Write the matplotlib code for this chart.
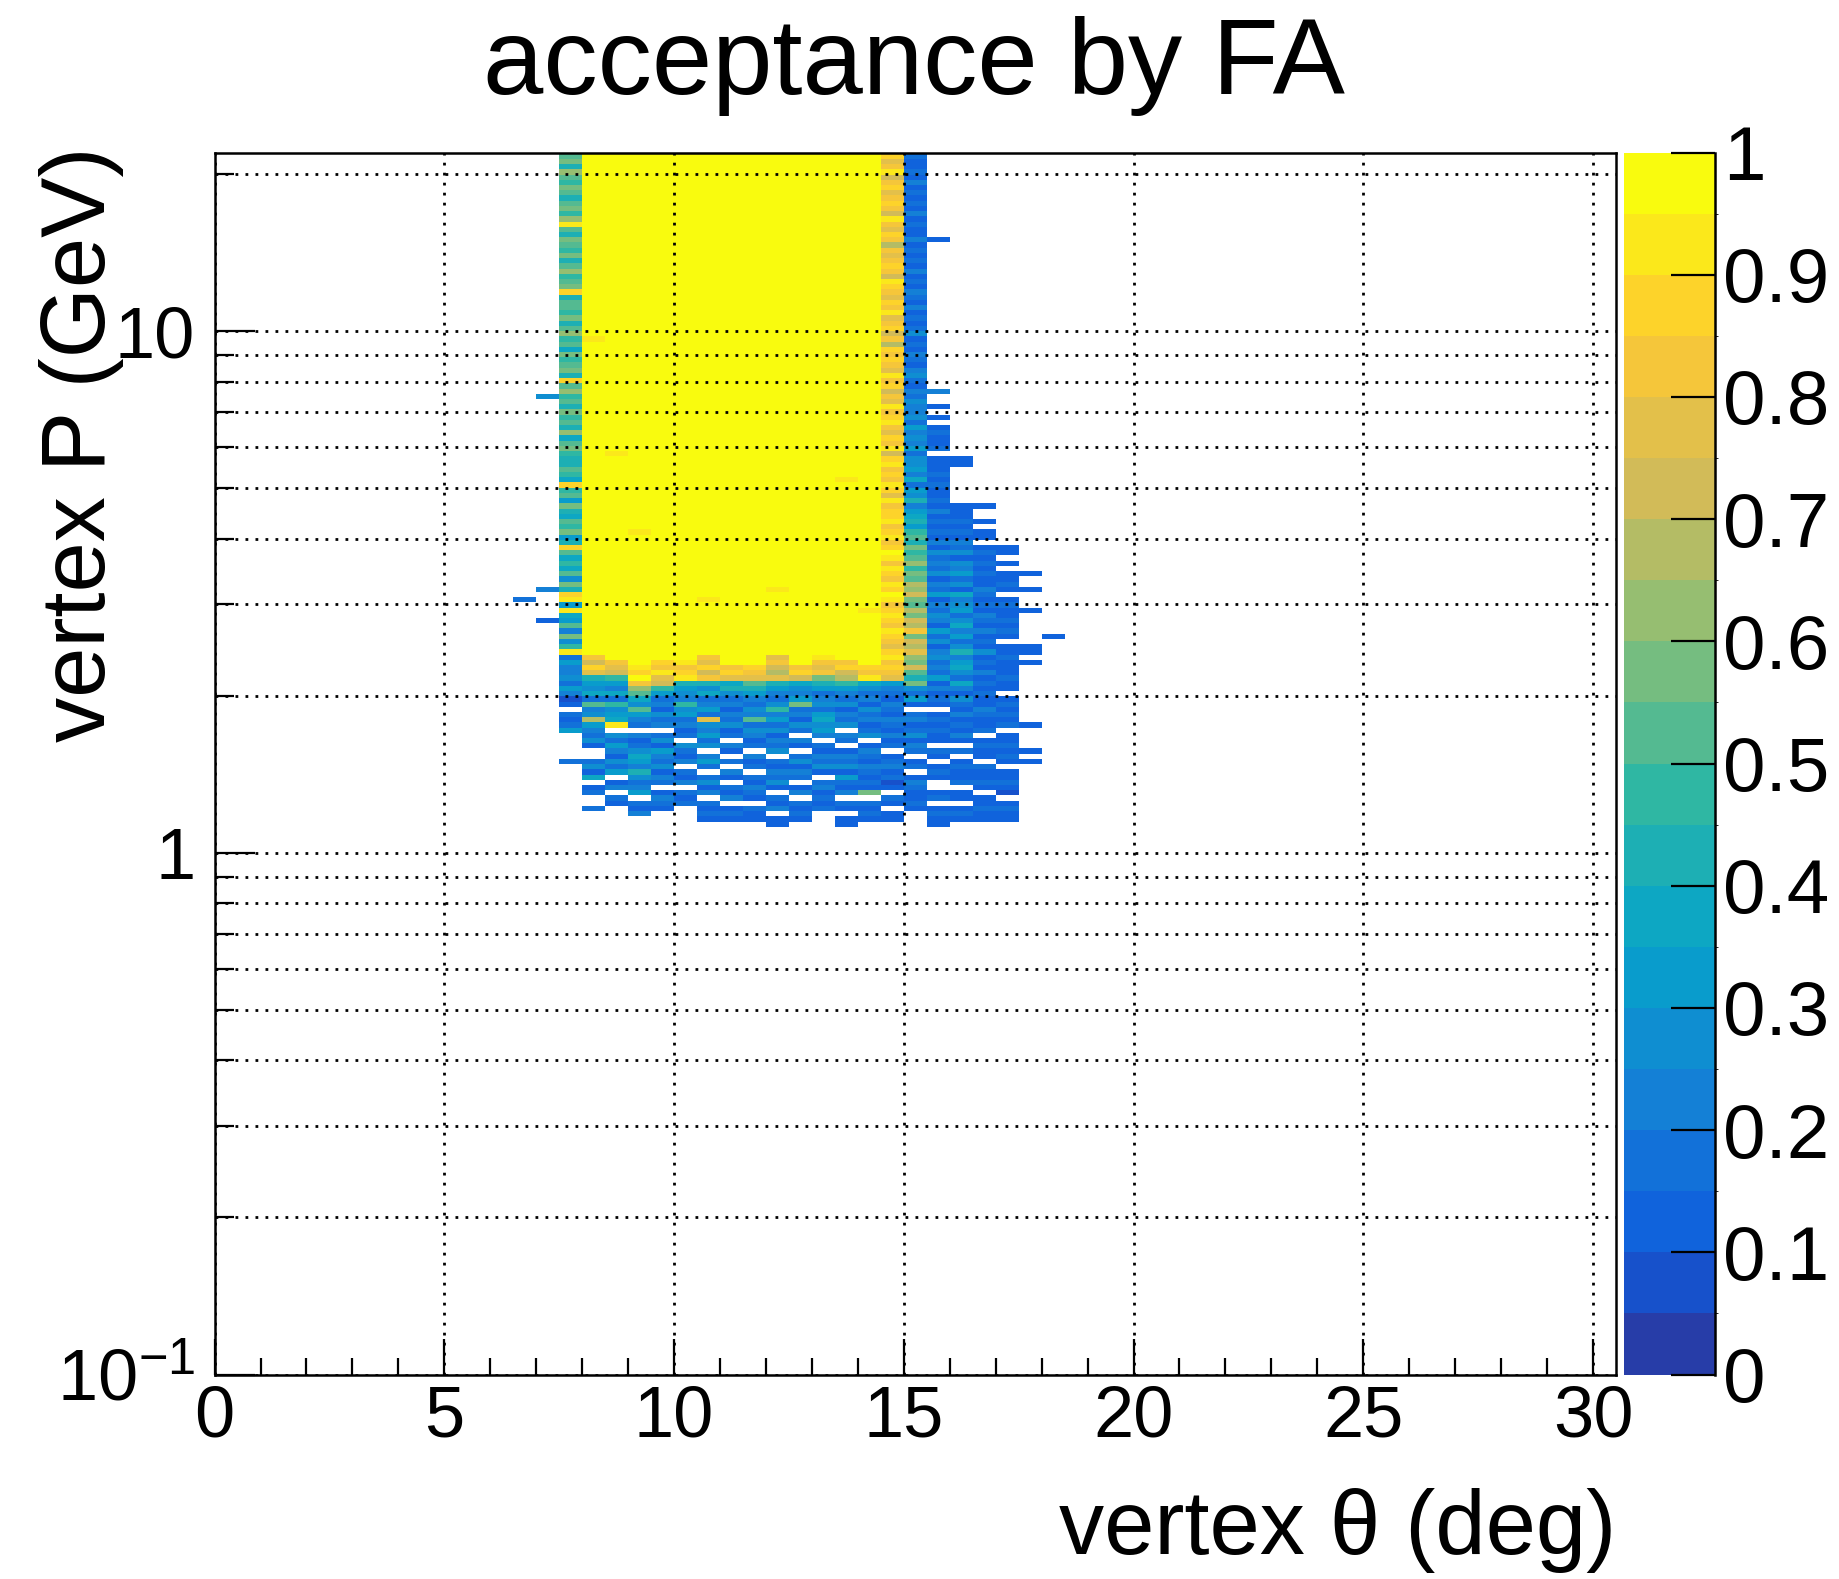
#!/usr/bin/env python3
"""
acceptance by FA -- 2D acceptance map (vertex theta vs vertex P), ROOT style.
"""

import numpy as np
import matplotlib
matplotlib.use("Agg")
import matplotlib.pyplot as plt
from matplotlib.colors import LinearSegmentedColormap, ListedColormap, BoundaryNorm
from matplotlib.ticker import MultipleLocator, LogLocator, NullFormatter

plt.rcParams["font.family"] = ["Liberation Sans", "DejaVu Sans"]
plt.rcParams["mathtext.fontset"] = "custom"
plt.rcParams["mathtext.rm"] = "Liberation Sans"

# ------------------------------------------------------------------
# 1  data
#    theta bins are 0.5 deg wide, P rows are 0.01 in log10(P),
#    first char = top row (log10 P = 1.34..1.35), last = bottom (0.05..0.06)
#    "." = empty bin, "0".."J" = acceptance band of width 0.05
# ------------------------------------------------------------------
CODES = "0123456789ABCDEFGHIJ"
E = ".........."
Y = "JJJJJJJJJJ"

theta_lo = [6.5, 7.0, 7.5, 8.0, 8.5, 9.0, 9.5, 10.0, 10.5, 11.0, 11.5, 12.0,
            12.5, 13.0, 13.5, 14.0, 14.5, 15.0, 15.5, 16.0, 16.5, 17.0, 17.5, 18.0]
theta_width = 0.5
logp_top, logp_step, n_rows = 1.35, 0.01, 130

acc_cols = [
    # 6.5
    [E, E, E, E, E, E, E, E, "......3...", E, E, E, E],
    # 7.0
    [E, E, E, E, ".......5..", E, E, E, "....4.....", "2.........", E, E, E],
    # 7.5
    ["9AB8CA9BA8", "AB9CIA8BA9", "B8AC9ABH8A", "A9B8AC9A7B", "9AB8HAC9A8", "B9A8C7AB98",
     "8A97H9A6B8", "7A9B68HA79", "7A5B8HI6I7", "6A4B59I364", "4536412.32", "36.....3..", E],
    # 8.0
    [Y, Y, Y, "JJJJJJIJJJ", Y, Y, Y, Y, Y, "JJJJJJJGEH", "F86573A45D", "64352..352", "7.23..3..."],
    # 8.5
    [Y, Y, Y, Y, Y, "JJJJJJJJIJ", Y, Y, Y, "JJJJJJJJGF", "E964739567", "I.53642536", ".24.32...."],
    # 9.0
    [Y, Y, Y, Y, Y, Y, Y, "JJJIJJJJJJ", Y, "JJJJJJJJJI", "HJGCA75A64", "3.42357648", "5346.324.."],
    # 9.5
    [Y, Y, Y, Y, Y, Y, Y, Y, Y, "JJJJJJJJHG", "IFE9634253", "4.35264352", "43.2432..."],
    # 10.0
    [Y, Y, Y, Y, Y, Y, Y, Y, Y, "JJJJJJJJIG", "HI86549563", "423.5324.3", "24.323...."],
    # 10.5
    [Y, Y, Y, Y, Y, Y, Y, Y, "JJJJJJIJJJ", "JJJJJJJGFH", "EG8573463F", "54635.463.", "3524.3232."],
    # 11.0
    [Y, Y, Y, Y, Y, Y, Y, Y, Y, "JJJJJJJJJG", "HF78534243", "523.42.3.4", "2.324.232."],
    # 11.5
    [Y, Y, Y, Y, Y, Y, Y, Y, Y, "JJJJJJJJJH", "GFA864354A", "35423.423.", "32432.322."],
    # 12.0
    [Y, Y, Y, Y, Y, Y, Y, Y, "JJJJIJJJJJ", "JJJJJJJFGE", "DF86435946", "352435.324", "352.324.22"],
    # 12.5
    [Y, Y, Y, Y, Y, Y, Y, Y, Y, "JJJJJJJJJG", "HE7546B342", "53.42.3524", "3.24.3232."],
    # 13.0
    [Y, Y, Y, Y, Y, Y, Y, Y, Y, "JJJJJJJIGF", "GB86345367", "564.324352", ".342323..."],
    # 13.5
    [Y, Y, Y, Y, Y, Y, "JJJIJJJJJJ", Y, Y, "JJJJJJJJGH", "ED96435243", "5.43.24352", "6324.32.22"],
    # 14.0
    [Y, Y, Y, Y, Y, Y, Y, Y, "JJJJJJJJIJ", "JJJJJJJJJH", "GI75342534", "235.243243", "232B.3232."],
    # 14.5
    ["GHFGIEGHFG", "HGEIGFHGDG", "FGHGEIHGFH", "GIFGHEGDHG", "HGFIGHEGFI", "GHIGFHGIEH",
     "IGHGIHFIGH", "HIGHIGHJIG", "IHGIHJIGHI", "HGIHGFHIGH", "GF64324324", "32423.2342", "312.32.22."],
    # 15.0
    ["2322324232", "3242322423", "2324232432", "4232352324", "3245324354", "4536454635",
     "5647365846", "7869A8B9AC", "9BADCEBADB", "EDGBEDFCBE", "A8B5362.34", "235243.23.", "2432232..."],
    # 15.5
    [E, ".......2..", E, E, "......4..2", ".2.23223.2", "2232322324", "2323242534",
     "3524362435", "4263524534", "3624232.23", "2322.32.23", "2..23.2322"],
    # 16.0
    [E, E, E, E, E, ".........2", "2.......22", "2323243525", "4635274563",
     "5746358467", "5374253242", "3242.3.232", "23.22.232."],
    # 16.5
    [E, E, E, E, E, E, "........2.", ".2.22.2323", "2322432324",
     "3242325232", "4232322432", "23.2322.32", "232.22322."],
    # 17.0
    [E, E, E, E, E, E, E, "......22.2", ".2232.2322", "3232.22322", "2322.23232", "3.223232.2", "2321.2322."],
    # 17.5
    [E, E, E, E, E, E, E, E, ".2..2...2.", ".....22.2.", E, "2....2.2..", E],
    # 18.0
    [E, E, E, E, E, E, E, E, E, "...2......", E, E, E],
]

cbar_ticks = [0, 0.1, 0.2, 0.3, 0.4, 0.5, 0.6, 0.7, 0.8, 0.9, 1.0]
cbar_labels = ["0", "0.1", "0.2", "0.3", "0.4", "0.5", "0.6", "0.7", "0.8", "0.9", "1"]

# ------------------------------------------------------------------
# 2  build the histogram grid
# ------------------------------------------------------------------
Z = np.full((n_rows, len(theta_lo)), np.nan)
for j, chunks in enumerate(acc_cols):
    s = "".join(chunks)
    assert len(s) == n_rows, (theta_lo[j], len(s))
    for k, ch in enumerate(s):
        if ch != ".":
            Z[k, j] = (CODES.index(ch) + 0.5) / 20.0
Z = np.ma.masked_invalid(Z)

x_edges = np.array(theta_lo + [theta_lo[-1] + theta_width])
y_edges = 10 ** (logp_top - logp_step * np.arange(n_rows + 1))

# ROOT kBird palette, 20 contours
stops = [0.0, 0.125, 0.25, 0.375, 0.5, 0.625, 0.75, 0.875, 1.0]
red   = [0.2082, 0.0592, 0.0780, 0.0232, 0.1802, 0.5301, 0.8186, 0.9956, 0.9764]
green = [0.1664, 0.3599, 0.5041, 0.6419, 0.7178, 0.7492, 0.7328, 0.7862, 0.9832]
blue  = [0.5293, 0.8684, 0.8385, 0.7914, 0.6425, 0.4662, 0.3499, 0.1968, 0.0539]
bird = LinearSegmentedColormap.from_list(
    "bird", [(s, (r, g, b)) for s, r, g, b in zip(stops, red, green, blue)])
band_cols = [bird(int((i + 0.99) * 12.75) / 254.0) for i in range(20)]
cmap = ListedColormap(band_cols)
norm = BoundaryNorm(np.linspace(0, 1, 21), cmap.N)

# ------------------------------------------------------------------
# 3  render
# ------------------------------------------------------------------
W, H = 1839, 1579
fig = plt.figure(figsize=(W / 100, H / 100), dpi=100)
ax = fig.add_axes([214.6 / W, 1 - 1374.5 / H, (1616 - 214.6) / W, (1374.5 - 152.5) / H])
cax = fig.add_axes([1624 / W, 1 - 1374.5 / H, 91 / W, (1374.5 - 152.5) / H])

mesh = ax.pcolormesh(x_edges, y_edges, Z, cmap=cmap, norm=norm, zorder=1)

ax.set_yscale("log")
ax.set_xlim(0, 30.5)
ax.set_ylim(0.1, 22)

ax.xaxis.set_major_locator(MultipleLocator(5))
ax.xaxis.set_minor_locator(MultipleLocator(1))
ax.set_yticks([0.1, 1, 10])
ax.set_yticklabels([r"$\mathregular{10^{-1}}$", "1", "10"])
ax.yaxis.set_minor_locator(LogLocator(base=10, subs=np.arange(2, 10)))
ax.yaxis.set_minor_formatter(NullFormatter())

ax.tick_params(axis="both", which="both", direction="in", top=False, right=False,
               width=1.6, labelsize=52)
ax.tick_params(axis="x", which="major", length=26, pad=7)
ax.tick_params(axis="x", which="minor", length=12)
ax.tick_params(axis="y", which="major", length=29, pad=14)
ax.tick_params(axis="y", which="minor", length=14)

grid_kw = dict(color="black", linestyle=(0, (1.0, 2.6)), linewidth=2.0)
ax.grid(True, which="major", axis="x", **grid_kw)
ax.grid(True, which="both", axis="y", **grid_kw)
ax.set_axisbelow(False)
for sp in ax.spines.values():
    sp.set_linewidth(1.8)
    sp.set_zorder(5)

# colour bar
cb = fig.colorbar(mesh, cax=cax, ticks=cbar_ticks)
cb.outline.set_visible(False)
cb.set_ticklabels(cbar_labels)
cax.tick_params(direction="in", length=32, width=1.6, labelsize=55, pad=6)
cax.plot([1, 1], [0, 1], transform=cax.transAxes, color="black", lw=1.8, clip_on=False)

# titles
fig.text(0.497, 1 - 94 / H, "acceptance by FA", ha="center", va="baseline", fontsize=78)
fig.text(1616 / W, 1 - 1554 / H, "vertex θ (deg)", ha="right", va="baseline", fontsize=65)
fig.text(82 / W, 1 - 147 / H, "vertex P (GeV)", ha="center", va="top", rotation=90, fontsize=65)

fig.savefig("out.png", dpi=100)
plt.close(fig)
print("[ok] saved out.png")
